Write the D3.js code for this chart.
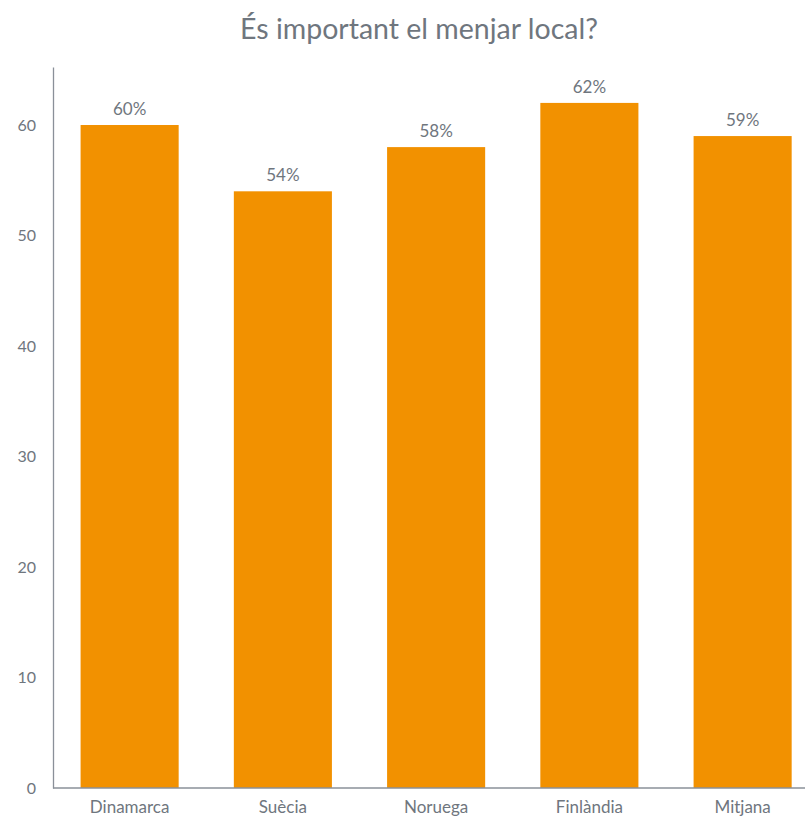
<!DOCTYPE html>
<html>
<head>
<meta charset="utf-8">
<script src="https://cdn.jsdelivr.net/npm/d3@7"></script>
<style>
  html, body { margin: 0; padding: 0; background: #fff; }
  svg { display: block; font-family: Lato, "Open Sans", sans-serif; }
</style>
</head>
<body>
<div id="chart"></div>
<script>
(function () {
  "use strict";

  var title = "És important el menjar local?";
  var categories = ["Dinamarca", "Suècia", "Noruega", "Finlàndia", "Mitjana"];
  var values = [60, 54, 58, 62, 59];
  var yTicks = [0, 10, 20, 30, 40, 50, 60];

  var W = 805, H = 819;
  var left = 53, top = 67, bottom = 788;
  var textColor = "#6f767e";

  var svg = d3.select("#chart").append("svg")
    .attr("width", W).attr("height", H);

  var x = d3.scaleBand()
    .domain(categories)
    .range([left, left + 5 * 153.25])
    .paddingInner(0.36)
    .paddingOuter(0.18);

  var y = d3.scaleLinear()
    .domain([0, 65.25])
    .range([bottom, top]);

  // title
  svg.append("text")
    .attr("x", 419).attr("y", 39)
    .attr("text-anchor", "middle")
    .attr("fill", textColor)
    .attr("font-size", 28.5)
    .text(title);

  // bars
  svg.append("g").selectAll("rect")
    .data(values)
    .join("rect")
    .attr("x", function (d, i) { return x(categories[i]); })
    .attr("y", function (d) { return y(d); })
    .attr("width", x.bandwidth())
    .attr("height", function (d) { return y(0) - y(d); })
    .attr("fill", "#f29100");

  // value labels
  svg.append("g").selectAll("text")
    .data(values)
    .join("text")
    .attr("x", function (d, i) { return x(categories[i]) + x.bandwidth() / 2; })
    .attr("y", function (d) { return y(d) - 10; })
    .attr("text-anchor", "middle")
    .attr("fill", textColor)
    .attr("font-size", 17)
    .text(function (d) { return d + "%"; });

  // y axis
  var yAxis = svg.append("g")
    .attr("transform", "translate(" + left + ",0)")
    .call(d3.axisLeft(y).tickValues(yTicks).tickSize(0).tickPadding(17));
  yAxis.select(".domain").attr("stroke", "#8a9099").attr("stroke-width", 1.3);
  yAxis.selectAll("text").attr("fill", textColor).attr("font-size", 16)
    .attr("font-family", "Lato, sans-serif");

  // x axis
  var xAxis = svg.append("g")
    .attr("transform", "translate(0," + bottom + ")")
    .call(d3.axisBottom(x).tickSize(0).tickPadding(13));
  xAxis.select(".domain").attr("d", "M" + left + ",0H" + W)
    .attr("stroke", "#8a9099").attr("stroke-width", 1.3);
  xAxis.selectAll("text").attr("fill", textColor).attr("font-size", 17)
    .attr("font-family", "Lato, sans-serif");
})();
</script>
</body>
</html>
